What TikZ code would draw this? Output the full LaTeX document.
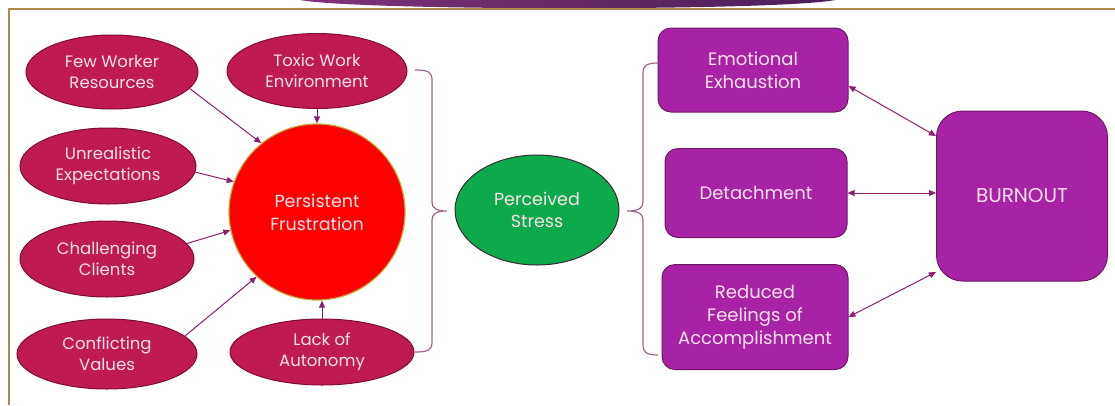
\documentclass[tikz,border=0pt]{standalone}
\usepackage{fontspec}
\setmainfont{Poppins}
\usetikzlibrary{shapes.geometric,arrows.meta}
\definecolor{crim}{RGB}{192,26,82}
\definecolor{crimB}{RGB}{128,12,58}
\definecolor{pinkT}{RGB}{250,226,236}
\definecolor{pfred}{RGB}{255,0,0}
\definecolor{pfB}{RGB}{190,175,60}
\definecolor{grn}{RGB}{12,170,75}
\definecolor{grnB}{RGB}{55,45,55}
\definecolor{purp}{RGB}{168,34,166}
\definecolor{purpB}{RGB}{110,24,100}
\definecolor{arrC}{RGB}{142,30,110}
\definecolor{brC}{RGB}{160,100,145}
\definecolor{frameC}{RGB}{176,136,80}
\definecolor{banL}{RGB}{128,50,120}
\definecolor{banR}{RGB}{75,30,90}
\tikzset{
  cause/.style={ellipse, draw=crimB, fill=crim, line width=1pt, text=pinkT,
    align=center, inner sep=0pt, font=\fontsize{16.5}{21}\selectfont},
  pfnode/.style={circle, draw=pfB, fill=pfred, line width=1.2pt, text=pinkT,
    align=center, inner sep=0pt, font=\fontsize{17.5}{23}\selectfont},
  stressnode/.style={ellipse, draw=grnB, fill=grn, line width=1pt, text=pinkT,
    align=center, inner sep=0pt, font=\fontsize{17.5}{22}\selectfont},
  dimbox/.style={rectangle, rounded corners=13pt, draw=purpB, fill=purp, line width=1pt,
    text=pinkT, align=center, inner sep=0pt, font=\fontsize{18}{23}\selectfont},
  arr/.style={draw=arrC, line width=1pt, -{Triangle[length=7pt,width=6pt]}},
  darr/.style={draw=arrC, line width=1pt, {Triangle[length=7pt,width=6pt]}-{Triangle[length=7pt,width=6pt]}},
  bracestyle/.style={draw=brC, line width=1.2pt}
}
\begin{document}
\begin{tikzpicture}[x=1pt,y=-1pt]
\useasboundingbox (0,0) rectangle (1115,405);
\fill[white] (0,0) rectangle (1115,405);
% banner and frame
\shade[left color=banL, right color=banR] (300,0) .. controls (360,11) and (780,11) .. (835,0) -- cycle;
\draw[frameC, line width=1.5pt] (9,405) -- (9,9) -- (1115,9);
% causes
\node[cause, minimum width=172pt, minimum height=74pt] (few) at (112,72) {Few Worker\\Resources};
\node[cause, minimum width=180pt, minimum height=75pt] (toxic) at (317,71) {Toxic Work\\Environment};
\node[cause, minimum width=176pt, minimum height=76pt] (unreal) at (108,166) {Unrealistic\\Expectations};
\node[cause, minimum width=174pt, minimum height=76pt] (chall) at (107,259) {Challenging\\Clients};
\node[cause, minimum width=180pt, minimum height=70pt] (confl) at (107,354) {Conflicting\\Values};
\node[cause, minimum width=184pt, minimum height=66pt] (lack) at (322,352) {Lack of\\Autonomy};
\node[pfnode, minimum size=176pt] (pf) at (317,212) {Persistent\\Frustration};
% stress
\node[stressnode, minimum width=164pt, minimum height=110pt] (stress) at (537,210) {Perceived\\Stress};
% dimensions
\node[dimbox, minimum width=190pt, minimum height=84pt] (ee) at (753,70) {Emotional\\Exhaustion};
\node[dimbox, minimum width=182pt, minimum height=89pt] (det) at (756,193) {Detachment};
\node[dimbox, minimum width=186pt, minimum height=105pt] (red) at (755,317) {Reduced\\Feelings of\\Accomplishment};
\node[dimbox, rounded corners=26pt, minimum width=171pt, minimum height=170pt,
  font=\fontsize{20}{23}\selectfont] (burn) at (1022,196) {BURNOUT};
% arrows into frustration
\draw[arr] (few.-12) -- (pf.129);
\draw[arr] (toxic.south) -- (pf.north);
\draw[arr] (unreal.-4) -- (pf.160);
\draw[arr] (chall.11) -- (pf.192);
\draw[arr] (confl.13) -- (pf.227);
\draw[arr] (lack.north) -- (lack.north |- pf.south);
% arrows to burnout
\draw[darr] ([yshift=-16pt]ee.east) -- ([yshift=60pt]burn.west);
\draw[darr] (det.east) -- (det.east -| burn.west);
\draw[darr] (red.east) -- ([yshift=-76pt]burn.west);
% braces
\coordinate (b1top) at (415,70);
\coordinate (b1tip) at (447,211);
\coordinate (b1bot) at (415,352);
\draw[bracestyle] (b1top) .. controls (428,70) and (432,72) .. (432,80) -- (432,202)
  .. controls (432,208) and (436,211) .. (b1tip)
  .. controls (436,211) and (432,214) .. (432,220) -- (432,342)
  .. controls (432,350) and (428,352) .. (b1bot);
\coordinate (b2top) at (658,63);
\coordinate (b2tip) at (627,211);
\coordinate (b2bot) at (658,355);
\draw[bracestyle] (b2top) .. controls (646,63) and (643,66) .. (643,73) -- (643,202)
  .. controls (643,208) and (639,211) .. (b2tip)
  .. controls (639,211) and (643,214) .. (643,220) -- (643,345)
  .. controls (643,352) and (646,355) .. (b2bot);
\end{tikzpicture}
\end{document}
